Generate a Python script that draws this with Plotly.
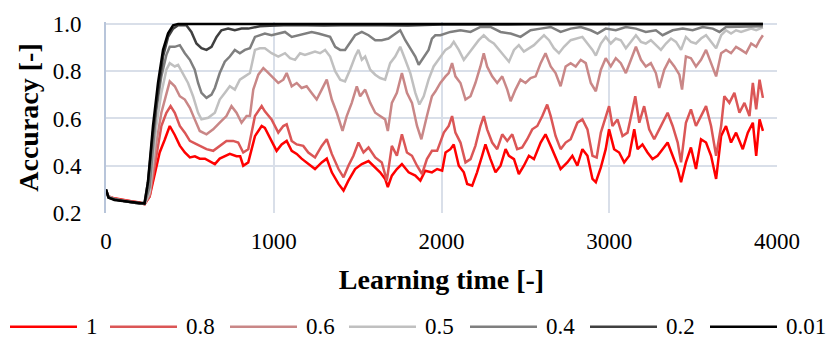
import plotly.graph_objects as go

# ---------------- data ----------------
series_names = ["1", "0.8", "0.6", "0.5", "0.4", "0.2", "0.01"]

x_1 = [0, 15, 50, 100, 150, 200, 230, 260, 290, 320, 350, 380, 410, 440, 470, 500, 530, 559, 590, 619, 649, 678, 708, 738, 778, 800, 818, 848, 888, 928, 947, 987, 1017, 1047, 1077, 1107, 1137, 1166, 1206, 1246, 1286, 1316, 1346, 1386, 1416, 1445, 1485, 1525, 1565, 1605, 1634, 1664, 1680, 1704, 1734, 1764, 1804, 1844, 1874, 1903, 1943, 1974, 2004, 2024, 2053, 2073, 2103, 2133, 2153, 2183, 2212, 2242, 2262, 2292, 2322, 2352, 2382, 2402, 2432, 2461, 2491, 2521, 2551, 2591, 2620, 2651, 2680, 2710, 2750, 2780, 2810, 2840, 2870, 2900, 2920, 2950, 2979, 2999, 3029, 3059, 3089, 3119, 3149, 3169, 3198, 3228, 3258, 3288, 3318, 3348, 3378, 3408, 3428, 3457, 3487, 3517, 3547, 3577, 3607, 3637, 3667, 3696, 3726, 3756, 3796, 3826, 3856, 3876, 3896, 3916]
y_1 = [0.295, 0.27, 0.262, 0.255, 0.25, 0.245, 0.237, 0.27, 0.36, 0.456, 0.51, 0.568, 0.53, 0.485, 0.456, 0.435, 0.44, 0.43, 0.43, 0.42, 0.407, 0.43, 0.44, 0.45, 0.44, 0.44, 0.40, 0.414, 0.525, 0.568, 0.56, 0.505, 0.463, 0.49, 0.505, 0.463, 0.45, 0.43, 0.407, 0.386, 0.414, 0.43, 0.372, 0.323, 0.295, 0.337, 0.386, 0.407, 0.42, 0.393, 0.372, 0.344, 0.31, 0.358, 0.386, 0.407, 0.372, 0.358, 0.337, 0.379, 0.372, 0.386, 0.379, 0.456, 0.47, 0.49, 0.40, 0.372, 0.323, 0.316, 0.372, 0.442, 0.49, 0.428, 0.372, 0.40, 0.47, 0.442, 0.428, 0.365, 0.40, 0.442, 0.428, 0.498, 0.533, 0.484, 0.435, 0.386, 0.414, 0.442, 0.40, 0.47, 0.442, 0.344, 0.33, 0.393, 0.47, 0.554, 0.47, 0.456, 0.414, 0.442, 0.554, 0.47, 0.49, 0.456, 0.428, 0.442, 0.47, 0.498, 0.442, 0.386, 0.33, 0.414, 0.477, 0.386, 0.512, 0.498, 0.442, 0.344, 0.526, 0.568, 0.498, 0.54, 0.47, 0.54, 0.582, 0.442, 0.596, 0.547]

x_08 = [0, 15, 50, 100, 150, 200, 230, 260, 300, 330, 360, 385, 410, 440, 470, 500, 530, 559, 599, 639, 678, 718, 758, 788, 818, 848, 888, 928, 947, 987, 1027, 1057, 1077, 1107, 1137, 1176, 1206, 1246, 1286, 1316, 1346, 1386, 1416, 1445, 1475, 1505, 1535, 1565, 1605, 1644, 1674, 1704, 1734, 1764, 1794, 1824, 1854, 1884, 1913, 1943, 1974, 2014, 2043, 2063, 2083, 2113, 2143, 2173, 2202, 2232, 2252, 2272, 2302, 2332, 2362, 2392, 2422, 2451, 2481, 2511, 2541, 2571, 2601, 2630, 2651, 2680, 2710, 2740, 2770, 2810, 2840, 2870, 2900, 2925, 2950, 2979, 2999, 3019, 3049, 3079, 3109, 3139, 3155, 3179, 3208, 3238, 3268, 3298, 3328, 3348, 3378, 3408, 3428, 3457, 3487, 3517, 3547, 3577, 3607, 3637, 3667, 3686, 3716, 3746, 3776, 3806, 3836, 3856, 3876, 3896, 3916]
y_08 = [0.29, 0.27, 0.26, 0.255, 0.25, 0.243, 0.238, 0.27, 0.44, 0.568, 0.624, 0.652, 0.624, 0.568, 0.54, 0.505, 0.495, 0.484, 0.47, 0.463, 0.484, 0.505, 0.505, 0.498, 0.456, 0.47, 0.61, 0.652, 0.63, 0.596, 0.54, 0.568, 0.575, 0.505, 0.49, 0.484, 0.456, 0.435, 0.484, 0.512, 0.45, 0.386, 0.351, 0.40, 0.442, 0.498, 0.456, 0.477, 0.435, 0.414, 0.337, 0.484, 0.442, 0.533, 0.456, 0.442, 0.40, 0.365, 0.428, 0.463, 0.463, 0.54, 0.568, 0.61, 0.54, 0.498, 0.414, 0.428, 0.484, 0.568, 0.61, 0.554, 0.498, 0.47, 0.533, 0.505, 0.533, 0.47, 0.477, 0.512, 0.554, 0.568, 0.61, 0.659, 0.61, 0.526, 0.47, 0.498, 0.512, 0.582, 0.596, 0.554, 0.442, 0.435, 0.54, 0.61, 0.652, 0.568, 0.596, 0.526, 0.54, 0.638, 0.694, 0.582, 0.652, 0.554, 0.512, 0.554, 0.596, 0.624, 0.568, 0.498, 0.414, 0.582, 0.638, 0.568, 0.61, 0.652, 0.568, 0.442, 0.568, 0.694, 0.666, 0.708, 0.624, 0.666, 0.61, 0.75, 0.638, 0.764, 0.687]

x_06 = [0, 15, 50, 100, 150, 200, 230, 260, 300, 330, 360, 380, 410, 440, 470, 500, 529, 559, 599, 639, 678, 718, 748, 778, 808, 838, 858, 878, 908, 938, 957, 987, 1027, 1057, 1077, 1107, 1137, 1166, 1196, 1226, 1256, 1286, 1316, 1346, 1376, 1410, 1435, 1465, 1495, 1515, 1545, 1575, 1605, 1634, 1664, 1680, 1704, 1734, 1764, 1794, 1824, 1854, 1880, 1913, 1943, 1964, 1993, 2024, 2043, 2063, 2083, 2113, 2143, 2173, 2202, 2232, 2252, 2272, 2302, 2332, 2362, 2392, 2412, 2441, 2471, 2501, 2531, 2561, 2591, 2620, 2651, 2680, 2710, 2740, 2770, 2800, 2830, 2860, 2890, 2920, 2950, 2979, 3009, 3039, 3069, 3099, 3129, 3159, 3189, 3218, 3248, 3278, 3298, 3328, 3358, 3388, 3418, 3434, 3457, 3487, 3517, 3547, 3577, 3607, 3637, 3667, 3696, 3726, 3756, 3786, 3816, 3846, 3876, 3896, 3916]
y_06 = [0.29, 0.268, 0.26, 0.252, 0.248, 0.242, 0.238, 0.28, 0.498, 0.624, 0.708, 0.757, 0.736, 0.694, 0.68, 0.645, 0.596, 0.547, 0.533, 0.554, 0.582, 0.61, 0.652, 0.624, 0.582, 0.61, 0.61, 0.722, 0.785, 0.813, 0.80, 0.778, 0.75, 0.764, 0.792, 0.736, 0.75, 0.729, 0.736, 0.708, 0.68, 0.722, 0.764, 0.68, 0.624, 0.547, 0.61, 0.666, 0.736, 0.694, 0.722, 0.666, 0.624, 0.61, 0.596, 0.547, 0.666, 0.708, 0.792, 0.708, 0.666, 0.568, 0.512, 0.61, 0.694, 0.715, 0.75, 0.778, 0.792, 0.834, 0.778, 0.75, 0.68, 0.694, 0.75, 0.82, 0.876, 0.82, 0.778, 0.75, 0.778, 0.722, 0.673, 0.722, 0.764, 0.75, 0.771, 0.778, 0.834, 0.876, 0.82, 0.792, 0.736, 0.82, 0.834, 0.82, 0.848, 0.834, 0.75, 0.715, 0.806, 0.855, 0.82, 0.855, 0.834, 0.792, 0.848, 0.903, 0.848, 0.82, 0.834, 0.792, 0.729, 0.806, 0.848, 0.82, 0.785, 0.722, 0.862, 0.855, 0.82, 0.848, 0.89, 0.834, 0.778, 0.876, 0.89, 0.876, 0.903, 0.89, 0.876, 0.917, 0.903, 0.93, 0.952]

x_05 = [0, 15, 50, 100, 150, 200, 230, 260, 300, 330, 360, 380, 410, 430, 459, 489, 519, 549, 569, 609, 649, 678, 708, 738, 768, 798, 828, 858, 888, 917, 947, 987, 1027, 1067, 1097, 1127, 1157, 1186, 1216, 1246, 1276, 1306, 1336, 1366, 1396, 1425, 1455, 1485, 1505, 1525, 1545, 1575, 1605, 1634, 1664, 1694, 1724, 1754, 1784, 1814, 1844, 1868, 1894, 1923, 1953, 1993, 2024, 2053, 2073, 2103, 2133, 2163, 2193, 2222, 2252, 2282, 2312, 2342, 2372, 2402, 2432, 2461, 2491, 2521, 2551, 2581, 2611, 2641, 2670, 2700, 2730, 2770, 2810, 2840, 2870, 2900, 2920, 2950, 2979, 3009, 3039, 3069, 3099, 3129, 3159, 3189, 3218, 3248, 3278, 3308, 3338, 3368, 3398, 3428, 3457, 3487, 3517, 3547, 3577, 3607, 3637, 3667, 3696, 3726, 3756, 3786, 3816, 3846, 3876, 3916]
y_05 = [0.29, 0.27, 0.258, 0.25, 0.245, 0.24, 0.238, 0.29, 0.568, 0.708, 0.806, 0.834, 0.82, 0.827, 0.792, 0.75, 0.694, 0.624, 0.596, 0.603, 0.624, 0.68, 0.708, 0.736, 0.722, 0.764, 0.778, 0.792, 0.89, 0.897, 0.897, 0.876, 0.862, 0.876, 0.855, 0.848, 0.876, 0.869, 0.876, 0.883, 0.876, 0.89, 0.862, 0.80, 0.764, 0.757, 0.806, 0.862, 0.89, 0.848, 0.862, 0.806, 0.785, 0.771, 0.764, 0.834, 0.862, 0.903, 0.848, 0.792, 0.708, 0.659, 0.694, 0.764, 0.82, 0.862, 0.89, 0.903, 0.924, 0.89, 0.848, 0.876, 0.903, 0.931, 0.952, 0.931, 0.917, 0.89, 0.862, 0.84, 0.89, 0.91, 0.883, 0.897, 0.91, 0.931, 0.952, 0.931, 0.897, 0.876, 0.903, 0.931, 0.938, 0.945, 0.917, 0.89, 0.866, 0.917, 0.945, 0.917, 0.938, 0.931, 0.897, 0.924, 0.952, 0.924, 0.917, 0.931, 0.91, 0.89, 0.917, 0.938, 0.924, 0.89, 0.945, 0.924, 0.917, 0.938, 0.952, 0.924, 0.897, 0.952, 0.973, 0.959, 0.973, 0.966, 0.973, 0.98, 0.973, 0.985]

x_04 = [0, 15, 50, 100, 150, 200, 230, 260, 300, 330, 360, 380, 410, 440, 470, 500, 529, 549, 569, 599, 629, 649, 678, 708, 738, 768, 798, 828, 858, 888, 917, 947, 987, 1027, 1067, 1107, 1147, 1186, 1226, 1266, 1306, 1336, 1366, 1396, 1425, 1455, 1485, 1525, 1565, 1605, 1644, 1684, 1724, 1754, 1784, 1814, 1844, 1864, 1894, 1923, 1943, 1963, 1993, 2053, 2113, 2173, 2232, 2292, 2352, 2412, 2471, 2531, 2591, 2651, 2710, 2770, 2830, 2890, 2930, 2979, 3039, 3099, 3159, 3218, 3278, 3318, 3378, 3438, 3497, 3557, 3617, 3657, 3696, 3756, 3816, 3876, 3916]
y_04 = [0.295, 0.268, 0.258, 0.25, 0.245, 0.24, 0.24, 0.31, 0.638, 0.778, 0.869, 0.903, 0.903, 0.91, 0.876, 0.848, 0.806, 0.75, 0.708, 0.687, 0.701, 0.729, 0.792, 0.84, 0.862, 0.89, 0.876, 0.89, 0.897, 0.945, 0.952, 0.959, 0.952, 0.959, 0.966, 0.945, 0.952, 0.959, 0.966, 0.959, 0.952, 0.945, 0.903, 0.89, 0.89, 0.924, 0.952, 0.966, 0.952, 0.931, 0.931, 0.938, 0.959, 0.973, 0.931, 0.897, 0.862, 0.827, 0.862, 0.89, 0.938, 0.952, 0.952, 0.966, 0.973, 0.966, 0.987, 0.987, 0.966, 0.959, 0.945, 0.973, 0.98, 0.987, 0.966, 0.98, 0.987, 0.973, 0.959, 0.98, 0.973, 0.987, 0.98, 0.966, 0.973, 0.952, 0.973, 0.98, 0.973, 0.987, 0.98, 0.966, 0.987, 0.987, 0.99, 0.987, 0.99]

x_02 = [0, 15, 50, 100, 150, 200, 230, 250, 280, 310, 340, 370, 400, 430, 479, 509, 539, 569, 599, 629, 659, 688, 728, 768, 808, 848, 888, 917, 977, 1100, 1300, 1500, 1800, 2000, 2500, 3000, 3500, 3916]
y_02 = [0.30, 0.265, 0.258, 0.25, 0.245, 0.24, 0.245, 0.33, 0.54, 0.708, 0.862, 0.945, 0.98, 0.994, 0.994, 0.966, 0.917, 0.897, 0.89, 0.903, 0.945, 0.973, 0.98, 0.973, 0.98, 0.98, 0.987, 0.99, 0.992, 0.995, 0.993, 0.995, 0.993, 0.997, 0.998, 0.999, 0.999, 1.0]

x_001 = [0, 15, 50, 100, 150, 200, 230, 250, 280, 310, 340, 370, 400, 430, 3916]
y_001 = [0.30, 0.265, 0.255, 0.25, 0.245, 0.24, 0.24, 0.33, 0.568, 0.75, 0.89, 0.96, 0.994, 1.0, 1.0]

x_ticks = [0, 1000, 2000, 3000, 4000]
y_ticks = [0.2, 0.4, 0.6, 0.8, 1.0]

xs = [x_1, x_08, x_06, x_05, x_04, x_02, x_001]
ys = [y_1, y_08, y_06, y_05, y_04, y_02, y_001]
colors = ["#ff0000", "#db5656", "#c98787", "#c0c0c0", "#7f7f7f", "#404040", "#000000"]

FONT = "Liberation Serif"
FS = 23
GRID = "#d9dfe9"
W, H = 826, 340
# a tiny headroom above 1.0 so the line lying on 1.0 is not half-clipped
Y_TOP = 1.008
ML, MR, MB = 106, 49, 127
MT = 22 - (Y_TOP - 1.0) / 0.8 * (340 - 22 - 127)

fig = go.Figure()
for name, xv, yv, col in zip(series_names, xs, ys, colors):
    fig.add_trace(go.Scatter(x=xv, y=yv, name=name, mode="lines", showlegend=False,
                             line=dict(color=col, width=2.5), cliponaxis=False))

# legend drawn as a row below the chart (long line samples like the reference)
pw, ph = W - ML - MR, H - MT - MB
def px2paper_x(px):
    return (px - ML) / pw
def px2paper_y(py):
    return (H - MB - py) / ph

leg_starts = [10, 110, 230, 349, 470, 590, 710]
leg_len = 67
leg_y = 328
shapes, annotations = [], []
for name, col, sx in zip(series_names, colors, leg_starts):
    shapes.append(dict(type="line", xref="paper", yref="paper",
                       x0=px2paper_x(sx), x1=px2paper_x(sx + leg_len),
                       y0=px2paper_y(leg_y), y1=px2paper_y(leg_y),
                       line=dict(color=col, width=2.5)))
    annotations.append(dict(text=name, xref="paper", yref="paper", showarrow=False,
                            x=px2paper_x(sx + leg_len + 7), y=px2paper_y(leg_y),
                            xanchor="left", yanchor="middle",
                            font=dict(family=FONT, size=FS, color="black")))

fig.update_layout(
    width=W, height=H,
    margin=dict(l=ML, r=MR, t=MT, b=MB),
    paper_bgcolor="white", plot_bgcolor="white",
    font=dict(family=FONT, size=FS, color="black"),
    showlegend=False,
    shapes=shapes, annotations=annotations,
    xaxis=dict(range=[0, 4000], tickvals=x_ticks, showgrid=True, gridcolor=GRID, gridwidth=2,
               zeroline=False, showline=False, ticks="", ticklabelstandoff=12,
               title=dict(text="<b>Learning time [-]</b>", standoff=16)),
    yaxis=dict(range=[0.2, Y_TOP], tickvals=y_ticks, tickformat=".1f", showgrid=True, gridcolor=GRID,
               gridwidth=2, zeroline=False, showline=True, linecolor="#b8c5da", linewidth=2,
               ticks="", ticklabelstandoff=18,
               title=dict(text="<b>Accuracy [-]</b>", standoff=6)),
)

# remove the browser's default 8px page margin so the figure fills the window exactly
fig.write_html("out.html", config={"displayModeBar": False},
               post_script="document.body.style.margin='0';")
